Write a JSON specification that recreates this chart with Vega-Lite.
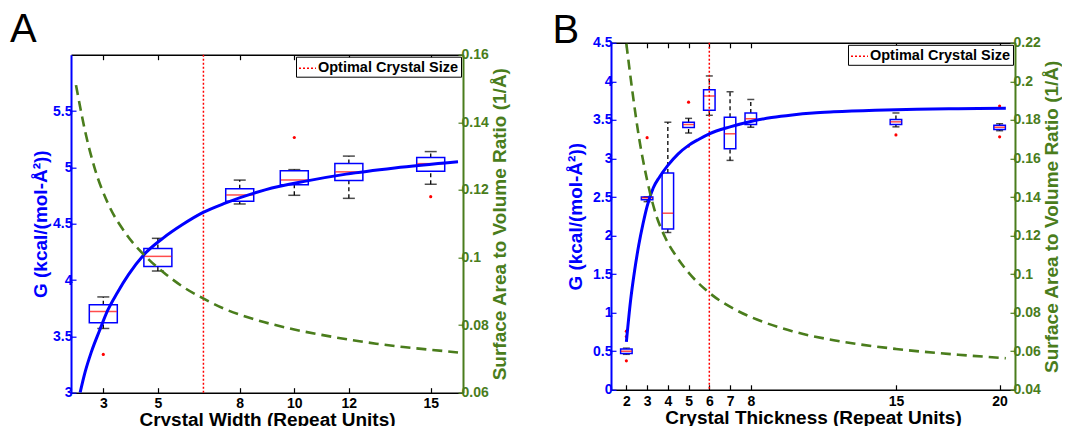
{
  "$schema": "https://vega.github.io/schema/vega-lite/v6.json",
  "padding": {"left": 10, "top": 8.7, "right": 0, "bottom": 0},
  "background": "white",
  "datasets": {
    "boxA": [
      {"x": 3, "lo": 3.57, "q1": 3.62, "med": 3.72, "q3": 3.78, "hi": 3.85},
      {"x": 5, "lo": 4.08, "q1": 4.12, "med": 4.21, "q3": 4.28, "hi": 4.37},
      {"x": 8, "lo": 4.675, "q1": 4.70, "med": 4.755, "q3": 4.81, "hi": 4.887},
      {"x": 10, "lo": 4.752, "q1": 4.846, "med": 4.888, "q3": 4.97, "hi": 4.98},
      {"x": 12, "lo": 4.725, "q1": 4.884, "med": 4.96, "q3": 5.034, "hi": 5.10},
      {"x": 15, "lo": 4.85, "q1": 4.965, "med": 5.033, "q3": 5.088, "hi": 5.14}
    ],
    "outA": [
      {"x": 3, "y": 3.34}, {"x": 10, "y": 5.265}, {"x": 15, "y": 4.74}
    ],
    "fitA": [
      {"x": 2.15, "g": 3.0}, {"x": 2.33, "g": 3.18}, {"x": 2.56, "g": 3.36}, {"x": 2.86, "g": 3.55},
      {"x": 3.16, "g": 3.73}, {"x": 3.52, "g": 3.89}, {"x": 3.93, "g": 4.05}, {"x": 4.47, "g": 4.22},
      {"x": 5.18, "g": 4.37}, {"x": 5.89, "g": 4.49}, {"x": 6.66, "g": 4.60}, {"x": 7.44, "g": 4.68},
      {"x": 8.93, "g": 4.80}, {"x": 10.47, "g": 4.88}, {"x": 11.9, "g": 4.94}, {"x": 13.68, "g": 4.995},
      {"x": 16, "g": 5.05}
    ],
    "saA": [
      {"x": 2.0, "r": 0.151}, {"x": 2.33, "r": 0.1375}, {"x": 2.68, "r": 0.1265}, {"x": 3.16, "r": 0.1162},
      {"x": 3.87, "r": 0.1066}, {"x": 4.59, "r": 0.1000}, {"x": 5.3, "r": 0.0950}, {"x": 6.0, "r": 0.0909},
      {"x": 6.66, "r": 0.0879}, {"x": 7.44, "r": 0.0848}, {"x": 8.5, "r": 0.0818}, {"x": 10, "r": 0.0787},
      {"x": 11, "r": 0.0771}, {"x": 12, "r": 0.0757}, {"x": 13, "r": 0.0745}, {"x": 14, "r": 0.0735},
      {"x": 15, "r": 0.0727}, {"x": 16, "r": 0.0719}
    ],
    "optA": [{"x": 6.67, "label": "Optimal Crystal Size"}],
    "boxB": [
      {"x": 2, "lo": 0.46, "q1": 0.47, "med": 0.50, "q3": 0.53, "hi": 0.54},
      {"x": 3, "lo": 2.44, "q1": 2.465, "med": 2.49, "q3": 2.50, "hi": 2.50},
      {"x": 4, "lo": 2.04, "q1": 2.085, "med": 2.29, "q3": 2.81, "hi": 3.47},
      {"x": 5, "lo": 3.33, "q1": 3.40, "med": 3.44, "q3": 3.47, "hi": 3.52},
      {"x": 6, "lo": 3.56, "q1": 3.625, "med": 3.81, "q3": 3.89, "hi": 4.07},
      {"x": 7, "lo": 2.975, "q1": 3.125, "med": 3.32, "q3": 3.535, "hi": 3.865},
      {"x": 8, "lo": 3.405, "q1": 3.44, "med": 3.515, "q3": 3.59, "hi": 3.765},
      {"x": 15, "lo": 3.41, "q1": 3.44, "med": 3.475, "q3": 3.505, "hi": 3.59},
      {"x": 20, "lo": 3.36, "q1": 3.375, "med": 3.405, "q3": 3.43, "hi": 3.45}
    ],
    "outB": [
      {"x": 2, "y": 0.76}, {"x": 2, "y": 0.69}, {"x": 2, "y": 0.375}, {"x": 3, "y": 3.27},
      {"x": 5, "y": 3.73}, {"x": 5, "y": 3.16}, {"x": 15, "y": 3.305}, {"x": 20, "y": 3.68}, {"x": 20, "y": 3.28}
    ],
    "fitB": [
      {"x": 2.0, "g": 0.62}, {"x": 2.2, "g": 1.15}, {"x": 2.4, "g": 1.55}, {"x": 2.6, "g": 1.88},
      {"x": 2.8, "g": 2.15}, {"x": 3.0, "g": 2.38}, {"x": 3.3, "g": 2.62}, {"x": 3.6, "g": 2.76},
      {"x": 4.0, "g": 2.91}, {"x": 4.5, "g": 3.06}, {"x": 5.0, "g": 3.17}, {"x": 5.5, "g": 3.25},
      {"x": 6.0, "g": 3.32}, {"x": 7.0, "g": 3.41}, {"x": 8.0, "g": 3.48}, {"x": 9.0, "g": 3.53},
      {"x": 10.0, "g": 3.565}, {"x": 11.0, "g": 3.59}, {"x": 12.0, "g": 3.605}, {"x": 14.0, "g": 3.625},
      {"x": 16.0, "g": 3.637}, {"x": 18.0, "g": 3.645}, {"x": 20.3, "g": 3.65}
    ],
    "saB": [
      {"x": 2.0, "r": 0.2195}, {"x": 2.3, "r": 0.194}, {"x": 2.6, "r": 0.1715}, {"x": 3.0, "r": 0.1488},
      {"x": 3.4, "r": 0.1318}, {"x": 3.85, "r": 0.1195}, {"x": 4.5, "r": 0.1078}, {"x": 5.0, "r": 0.1008},
      {"x": 6.0, "r": 0.0903}, {"x": 7.3, "r": 0.0813}, {"x": 8.55, "r": 0.0754}, {"x": 10.0, "r": 0.0704},
      {"x": 12.0, "r": 0.0657}, {"x": 15.0, "r": 0.0612}, {"x": 18.0, "r": 0.0582}, {"x": 20.3, "r": 0.0564}
    ],
    "optB": [{"x": 6, "label": "Optimal Crystal Size"}]
  },
  "hconcat": [
    {
      "title": {"text": "A", "anchor": "start", "frame": "bounds", "fontSize": 40, "fontWeight": "normal", "font": "Liberation Sans", "color": "black", "offset": -1.9, "dx": -21},
      "width": 392,
      "height": 338,
      "layer": [
        {
          "layer": [
            {
              "data": {"name": "boxA"},
              "mark": {"type": "rule", "color": "black", "strokeWidth": 1.3, "strokeDash": [4, 3]},
              "encoding": {
                "x": {"field": "x", "type": "quantitative", "scale": {"domain": [2, 16], "nice": false, "zero": false},
                  "axis": {"orient": "bottom", "values": [3, 5, 8, 10, 12, 15], "tickCount": 30, "format": "~g", "title": "Crystal Width (Repeat Units)", "domainColor": "black", "domainWidth": 1.5, "tickColor": "black", "tickWidth": 1.2, "tickSize": -5, "labelColor": "black", "labelPadding": 9, "labelOverlap": false, "titleColor": "black", "titlePadding": 0}},
                "y": {"field": "lo", "type": "quantitative", "scale": {"domain": [3, 6], "nice": false, "zero": false},
                  "axis": {"orient": "left", "values": [3, 3.5, 4, 4.5, 5, 5.5], "tickCount": 30, "format": "~g", "title": "G (kcal/(mol-Å²))", "domainColor": "#0000ff", "domainWidth": 2, "tickColor": "#0000ff", "tickWidth": 1.2, "tickSize": -5, "labelColor": "#0000ff", "labelPadding": 4, "labelOverlap": false, "titleColor": "#0000ff", "titlePadding": 2.5}},
                "y2": {"field": "q1"}
              }
            },
            {
              "data": {"name": "boxA"},
              "mark": {"type": "rule", "color": "black", "strokeWidth": 1.3, "strokeDash": [4, 3]},
              "encoding": {"x": {"field": "x", "type": "quantitative"}, "y": {"field": "q3", "type": "quantitative"}, "y2": {"field": "hi"}}
            },
            {
              "data": {"name": "boxA"},
              "mark": {"type": "tick", "orient": "horizontal", "color": "black", "size": 12, "thickness": 1.5},
              "encoding": {"x": {"field": "x", "type": "quantitative"}, "y": {"field": "lo", "type": "quantitative"}}
            },
            {
              "data": {"name": "boxA"},
              "mark": {"type": "tick", "orient": "horizontal", "color": "black", "size": 12, "thickness": 1.5},
              "encoding": {"x": {"field": "x", "type": "quantitative"}, "y": {"field": "hi", "type": "quantitative"}}
            },
            {
              "data": {"name": "boxA"},
              "mark": {"type": "bar", "filled": false, "color": "#0000ff", "strokeWidth": 1.5, "width": 28},
              "encoding": {"x": {"field": "x", "type": "quantitative"}, "y": {"field": "q1", "type": "quantitative"}, "y2": {"field": "q3"}}
            },
            {
              "data": {"name": "boxA"},
              "mark": {"type": "tick", "orient": "horizontal", "color": "#ff0000", "size": 27, "thickness": 1.5},
              "encoding": {"x": {"field": "x", "type": "quantitative"}, "y": {"field": "med", "type": "quantitative"}}
            },
            {
              "data": {"name": "outA"},
              "mark": {"type": "point", "filled": true, "color": "#ff0000", "size": 10, "opacity": 1},
              "encoding": {"x": {"field": "x", "type": "quantitative"}, "y": {"field": "y", "type": "quantitative"}}
            },
            {
              "data": {"name": "optA"},
              "mark": {"type": "rule", "strokeWidth": 1.5, "strokeDash": [2, 2]},
              "encoding": {
                "x": {"field": "x", "type": "quantitative"},
                "color": {"field": "label", "type": "nominal", "scale": {"range": ["#ff0000"]},
                  "legend": {"title": null, "orient": "top-right", "offset": 2, "strokeColor": "black", "fillColor": "white", "padding": 2, "symbolType": "stroke", "symbolSize": 289, "symbolStrokeWidth": 1.5, "symbolDash": [2, 2], "labelFontSize": 14.5, "labelFontWeight": "bold", "labelColor": "black", "labelFont": "Liberation Sans", "labelOffset": 1, "labelLimit": 300}}
              }
            },
            {
              "data": {"name": "fitA"},
              "mark": {"type": "line", "color": "#0000ff", "strokeWidth": 3, "interpolate": "monotone", "clip": true},
              "encoding": {"x": {"field": "x", "type": "quantitative"}, "y": {"field": "g", "type": "quantitative"}}
            }
          ]
        },
        {
          "data": {"name": "saA"},
          "mark": {"type": "line", "color": "#4a7d1c", "strokeWidth": 2.6, "strokeDash": [10, 6], "interpolate": "monotone", "clip": true},
          "encoding": {
            "x": {"field": "x", "type": "quantitative",
              "axis": {"orient": "top", "values": [3, 5, 8, 10, 12, 15], "tickCount": 30, "labels": false, "title": null, "domainColor": "black", "domainWidth": 1.5, "tickColor": "black", "tickWidth": 1.2, "tickSize": -5}},
            "y": {"field": "r", "type": "quantitative", "scale": {"domain": [0.06, 0.16], "nice": false, "zero": false},
              "axis": {"orient": "right", "values": [0.06, 0.08, 0.1, 0.12, 0.14, 0.16], "tickCount": 30, "format": ".2~f", "title": "Surface Area to Volume Ratio (1/Å)", "titleAngle": 270, "titleBaseline": "top", "domainColor": "#4a7d1c", "domainWidth": 2, "tickColor": "#4a7d1c", "tickWidth": 1.2, "tickSize": -5, "labelColor": "#4a7d1c", "labelPadding": 3, "labelOverlap": false, "titleColor": "#4a7d1c", "titlePadding": 2}}
          }
        }
      ],
      "resolve": {"scale": {"y": "independent"}, "axis": {"x": "independent"}}
    },
    {
      "title": {"text": "B", "anchor": "start", "frame": "bounds", "fontSize": 40, "fontWeight": "normal", "font": "Liberation Sans", "color": "black", "offset": -15.6, "dx": -13.5},
      "width": 404,
      "height": 347,
      "layer": [
        {
          "layer": [
            {
              "data": {"name": "boxB"},
              "mark": {"type": "rule", "color": "black", "strokeWidth": 1.3, "strokeDash": [4, 3]},
              "encoding": {
                "x": {"field": "x", "type": "quantitative", "scale": {"domain": [1.5, 20.5], "nice": false, "zero": false},
                  "axis": {"orient": "bottom", "values": [2, 3, 4, 5, 6, 7, 8, 15, 20], "tickCount": 30, "format": "~g", "title": ["Crystal Thickness (Repeat Units)", " "], "titleLineHeight": 13.8, "domainColor": "black", "domainWidth": 1.5, "tickColor": "black", "tickWidth": 1.2, "tickSize": -5, "labelColor": "black", "labelPadding": 10, "labelOverlap": false, "titleColor": "black", "titlePadding": 0}},
                "y": {"field": "lo", "type": "quantitative", "scale": {"domain": [0, 4.5], "nice": false, "zero": false},
                  "axis": {"orient": "left", "values": [0, 0.5, 1, 1.5, 2, 2.5, 3, 3.5, 4, 4.5], "tickCount": 30, "format": "~g", "title": "G (kcal/(mol-Å²))", "domainColor": "#0000ff", "domainWidth": 2, "tickColor": "#0000ff", "tickWidth": 1.2, "tickSize": -5, "labelColor": "#0000ff", "labelPadding": 4, "labelOverlap": false, "titleColor": "#0000ff", "titlePadding": 7.5}},
                "y2": {"field": "q1"}
              }
            },
            {
              "data": {"name": "boxB"},
              "mark": {"type": "rule", "color": "black", "strokeWidth": 1.3, "strokeDash": [4, 3]},
              "encoding": {"x": {"field": "x", "type": "quantitative"}, "y": {"field": "q3", "type": "quantitative"}, "y2": {"field": "hi"}}
            },
            {
              "data": {"name": "boxB"},
              "mark": {"type": "tick", "orient": "horizontal", "color": "black", "size": 7, "thickness": 1.5},
              "encoding": {"x": {"field": "x", "type": "quantitative"}, "y": {"field": "lo", "type": "quantitative"}}
            },
            {
              "data": {"name": "boxB"},
              "mark": {"type": "tick", "orient": "horizontal", "color": "black", "size": 7, "thickness": 1.5},
              "encoding": {"x": {"field": "x", "type": "quantitative"}, "y": {"field": "hi", "type": "quantitative"}}
            },
            {
              "data": {"name": "boxB"},
              "mark": {"type": "bar", "filled": false, "color": "#0000ff", "strokeWidth": 1.5, "width": 11.5},
              "encoding": {"x": {"field": "x", "type": "quantitative"}, "y": {"field": "q1", "type": "quantitative"}, "y2": {"field": "q3"}}
            },
            {
              "data": {"name": "boxB"},
              "mark": {"type": "tick", "orient": "horizontal", "color": "#ff0000", "size": 11, "thickness": 1.5},
              "encoding": {"x": {"field": "x", "type": "quantitative"}, "y": {"field": "med", "type": "quantitative"}}
            },
            {
              "data": {"name": "outB"},
              "mark": {"type": "point", "filled": true, "color": "#ff0000", "size": 10, "opacity": 1},
              "encoding": {"x": {"field": "x", "type": "quantitative"}, "y": {"field": "y", "type": "quantitative"}}
            },
            {
              "data": {"name": "optB"},
              "mark": {"type": "rule", "strokeWidth": 1.5, "strokeDash": [2, 2]},
              "encoding": {
                "x": {"field": "x", "type": "quantitative"},
                "color": {"field": "label", "type": "nominal", "scale": {"range": ["#ff0000"]},
                  "legend": {"title": null, "orient": "top-right", "offset": 2, "strokeColor": "black", "fillColor": "white", "padding": 2, "symbolType": "stroke", "symbolSize": 289, "symbolStrokeWidth": 1.5, "symbolDash": [2, 2], "labelFontSize": 14.5, "labelFontWeight": "bold", "labelColor": "black", "labelFont": "Liberation Sans", "labelOffset": 1, "labelLimit": 300}}
              }
            },
            {
              "data": {"name": "fitB"},
              "mark": {"type": "line", "color": "#0000ff", "strokeWidth": 3, "interpolate": "monotone", "clip": true},
              "encoding": {"x": {"field": "x", "type": "quantitative"}, "y": {"field": "g", "type": "quantitative"}}
            }
          ]
        },
        {
          "data": {"name": "saB"},
          "mark": {"type": "line", "color": "#4a7d1c", "strokeWidth": 2.6, "strokeDash": [10, 6], "interpolate": "monotone", "clip": true},
          "encoding": {
            "x": {"field": "x", "type": "quantitative",
              "axis": {"orient": "top", "values": [2, 3, 4, 5, 6, 7, 8, 15, 20], "tickCount": 30, "labels": false, "title": null, "domainColor": "black", "domainWidth": 1.5, "tickColor": "black", "tickWidth": 1.2, "tickSize": -5}},
            "y": {"field": "r", "type": "quantitative", "scale": {"domain": [0.04, 0.22], "nice": false, "zero": false},
              "axis": {"orient": "right", "values": [0.04, 0.06, 0.08, 0.1, 0.12, 0.14, 0.16, 0.18, 0.2, 0.22], "tickCount": 30, "format": ".2~f", "title": "Surface Area to Volume Ratio (1/Å)", "titleAngle": 270, "titleBaseline": "top", "domainColor": "#4a7d1c", "domainWidth": 2, "tickColor": "#4a7d1c", "tickWidth": 1.2, "tickSize": -5, "labelColor": "#4a7d1c", "labelPadding": 3, "labelOverlap": false, "titleColor": "#4a7d1c", "titlePadding": 2}}
          }
        }
      ],
      "resolve": {"scale": {"y": "independent"}, "axis": {"x": "independent"}}
    }
  ],
  "spacing": 42,
  "align": {"row": "all", "column": "none"},
  "center": {"row": true, "column": false},
  "resolve": {"scale": {"color": "independent"}},
  "config": {
    "font": "Liberation Sans",
    "view": {"stroke": null},
    "axis": {"labelFont": "Liberation Sans", "titleFont": "Liberation Sans", "labelFontWeight": "bold", "titleFontWeight": "bold", "labelFontSize": 14, "titleFontSize": 19, "grid": false, "labelFlush": false, "labelOverlap": false, "labelBound": false}
  }
}
